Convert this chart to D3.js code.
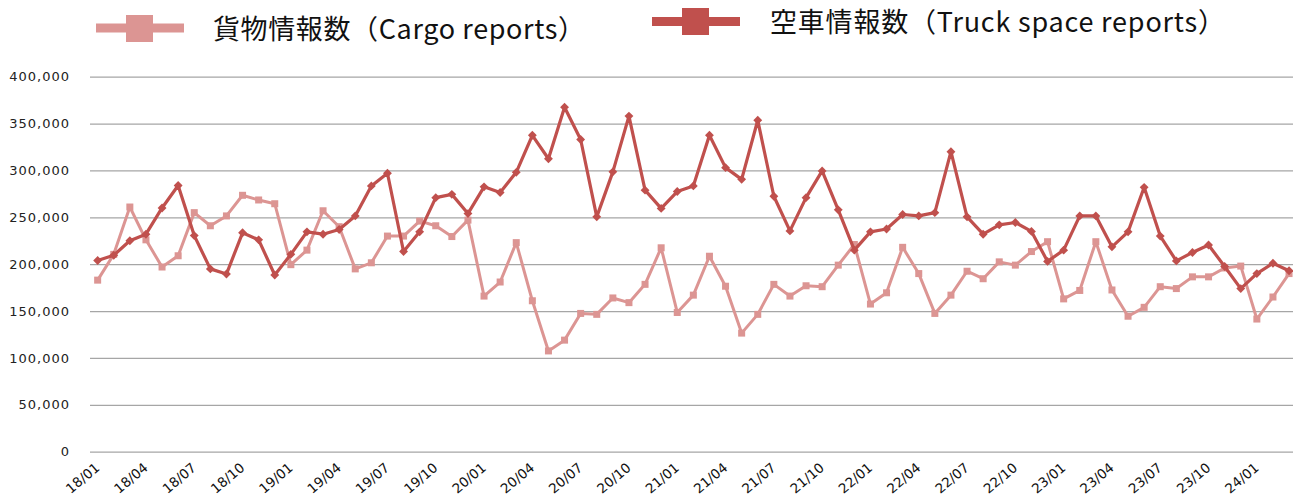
<!DOCTYPE html>
<html><head><meta charset="utf-8">
<script src="https://cdn.jsdelivr.net/npm/d3@7"></script>
<style>
html,body{margin:0;padding:0;background:#fff;}
svg{display:block;}
</style></head>
<body>
<svg id="chart" width="1293" height="496"></svg>
<script>
const months = [
"18/01","18/02","18/03","18/04","18/05","18/06","18/07","18/08","18/09","18/10","18/11","18/12",
"19/01","19/02","19/03","19/04","19/05","19/06","19/07","19/08","19/09","19/10","19/11","19/12",
"20/01","20/02","20/03","20/04","20/05","20/06","20/07","20/08","20/09","20/10","20/11","20/12",
"21/01","21/02","21/03","21/04","21/05","21/06","21/07","21/08","21/09","21/10","21/11","21/12",
"22/01","22/02","22/03","22/04","22/05","22/06","22/07","22/08","22/09","22/10","22/11","22/12",
"23/01","23/02","23/03","23/04","23/05","23/06","23/07","23/08","23/09","23/10","23/11","23/12",
"24/01","24/02","24/03"];
const cargo = [
183000,210500,261000,226000,197000,209000,255000,241000,251500,273500,268500,264500,
199500,215000,257000,240000,195000,201500,230000,230000,246000,241000,229500,247000,
166000,181000,223000,161000,107500,119000,147500,146500,164000,159000,178500,217500,
148500,167000,208500,176500,126500,146500,178500,166000,177000,176000,199000,221000,
157500,169500,218000,190000,147500,167000,192500,184500,202500,199000,213500,224000,
163000,172000,224000,172500,144500,154000,176000,174000,186500,186500,196000,198000,
141500,165000,190000];
const truck = [
204000,209500,225000,232000,260000,284000,230500,195000,189500,233500,226000,188500,
210500,234500,232000,237000,251500,283500,297000,213500,234500,271000,274500,254000,
282500,276500,298000,337500,312500,367500,333000,250500,298500,358000,279000,259500,
277500,283500,337500,303000,290500,353500,272500,235500,271000,299500,258000,215000,
234500,237500,253000,251500,255000,320000,250500,232000,242000,244500,235000,203000,
215000,251500,251500,218500,234500,282000,230000,203500,212500,220500,197500,174000,
190000,201000,193000];
const yTicks = [0,50000,100000,150000,200000,250000,300000,350000,400000];
const xTickLabels = months.filter((m,i)=> i%3===0);
const seriesNames = ["貨物情報数（Cargo reports）","空車情報数（Truck space reports）"];
const colors = ["#dc9593","#c0504d"];

const svg = d3.select("#chart");
const x = d3.scaleBand().domain(months).range([89.6, 89.6 + months.length*16.1]).padding(0);
const cx = d => x(d) + x.bandwidth()/2;
const y = d3.scaleLinear().domain([0,400000]).range([451.7, 76.7]);

// gridlines + y labels
const yAxis = d3.axisLeft(y).tickValues(yTicks).tickSize(-(1293-90)).tickPadding(20)
  .tickFormat(d3.format(","));
const gy = svg.append("g").attr("transform","translate(90,0)").call(yAxis);
gy.select(".domain").remove();
gy.selectAll(".tick line").attr("stroke","#a6a6a6").attr("stroke-width",1.3);
gy.selectAll(".tick text").attr("font-family","'DejaVu Sans', Verdana, sans-serif")
  .attr("font-size","13px").attr("letter-spacing","1px").attr("fill","#222").attr("x",-20);

// x labels
const xAxis = d3.axisBottom(x).tickValues(xTickLabels).tickSize(0).tickPadding(0);
const gx = svg.append("g").call(xAxis);
gx.select(".domain").remove();
gx.selectAll(".tick").attr("transform", d => `translate(${cx(d)-15},478)`);
gx.selectAll(".tick text")
  .attr("font-family","'DejaVu Sans', Verdana, sans-serif").attr("font-size","13.5px")
  .attr("fill","#111").attr("text-anchor","middle").attr("dy","0.35em").attr("y",0).attr("x",0)
  .attr("transform","rotate(-40)");

const line = d3.line().x((d,i)=>cx(months[i])).y(d=>y(d));

// cargo
svg.append("path").datum(cargo).attr("d",line).attr("fill","none")
  .attr("stroke",colors[0]).attr("stroke-width",3).attr("stroke-linejoin","round");
svg.append("g").selectAll("rect").data(cargo).join("rect")
  .attr("x",(d,i)=>cx(months[i])-3.5).attr("y",d=>y(d)-3.5)
  .attr("width",7).attr("height",7).attr("fill",colors[0]);

// truck
svg.append("path").datum(truck).attr("d",line).attr("fill","none")
  .attr("stroke",colors[1]).attr("stroke-width",3.2).attr("stroke-linejoin","round");
const sym = d3.symbol().type(d3.symbolDiamond2).size(50);
svg.append("g").selectAll("path").data(truck).join("path")
  .attr("d",sym).attr("transform",(d,i)=>`translate(${cx(months[i])},${y(d)})`)
  .attr("fill",colors[1]);

// legend
const legend = [
  {name:seriesNames[0], color:colors[0], x1:96, x2:184, sq:[126,15,27], ly:28, tx:213, ty:29, tw:372},
  {name:seriesNames[1], color:colors[1], x1:652, x2:740, sq:[682,8,27], ly:21.5, tx:770, ty:22, tw:455}
];
legend.forEach(l=>{
  svg.append("line").attr("x1",l.x1).attr("x2",l.x2).attr("y1",l.ly).attr("y2",l.ly)
    .attr("stroke",l.color).attr("stroke-width",9);
  svg.append("rect").attr("x",l.sq[0]).attr("y",l.sq[1]).attr("width",l.sq[2]).attr("height",l.sq[2])
    .attr("fill",l.color);
  svg.append("text").attr("x",l.tx).attr("y",l.ty).attr("dy","0.36em")
    .attr("font-family","'Noto Sans CJK JP', sans-serif").attr("font-size","27px")
    .attr("textLength",l.tw).attr("lengthAdjust","spacing")
    .attr("fill","#111").text(l.name);
});
</script>
</body></html>
